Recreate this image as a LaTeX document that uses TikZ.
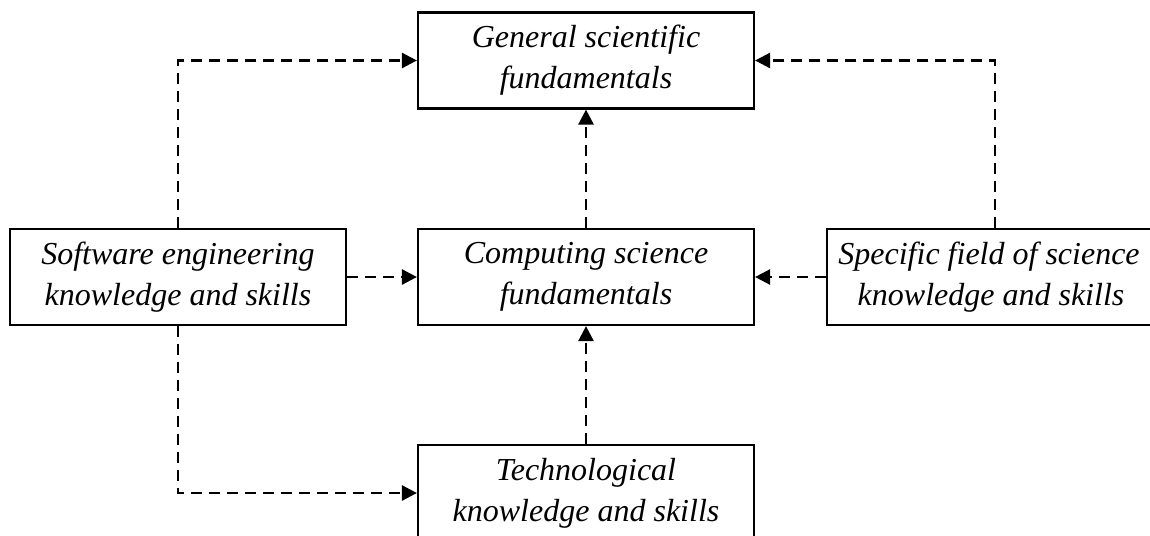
\documentclass[tikz,border=0pt]{standalone}
\usepackage{fontspec}
\setmainfont{Liberation Serif}
\usetikzlibrary{arrows.meta}
\begin{document}
\begin{tikzpicture}[x=1pt,y=-1pt,
  box/.style={draw,line width=2.2pt,minimum width=336pt,minimum height=96pt,
    inner sep=0pt,align=center,font=\fontsize{32}{41}\selectfont\itshape},
  conn/.style={line width=2.6pt,dash pattern=on 11pt off 7pt,
    -{Triangle[length=15pt,width=15pt]}}]
  \useasboundingbox (0,0) rectangle (1150,535);
  \clip (0,0) rectangle (1150,535);
  % boxes
  \node[box] (gen) at (586,60.5) {General scientific\\fundamentals};
  \node[box] (sw)  at (178,277)  {Software engineering\\knowledge and skills};
  \node[box] (cs)  at (586,277)  {Computing science\\fundamentals};
  \node[box] (sf)  at (995,277)  {Specific field of science\hspace*{12pt}\\knowledge and skills\hspace*{8pt}};
  \node[box] (tk)  at (586,493)  {Technological\\knowledge and skills};
  % connectors
  \draw[conn] (sw.north) |- (gen.west);
  \draw[conn] (sf.north) |- (gen.east);
  \draw[conn] (cs.north) -- (gen.south);
  \draw[conn] (sw.east) -- (cs.west);
  \draw[conn] (sf.west) -- (cs.east);
  \draw[conn] (tk.north) -- (cs.south);
  \draw[conn] (sw.south) |- (tk.west);
\end{tikzpicture}
\end{document}
